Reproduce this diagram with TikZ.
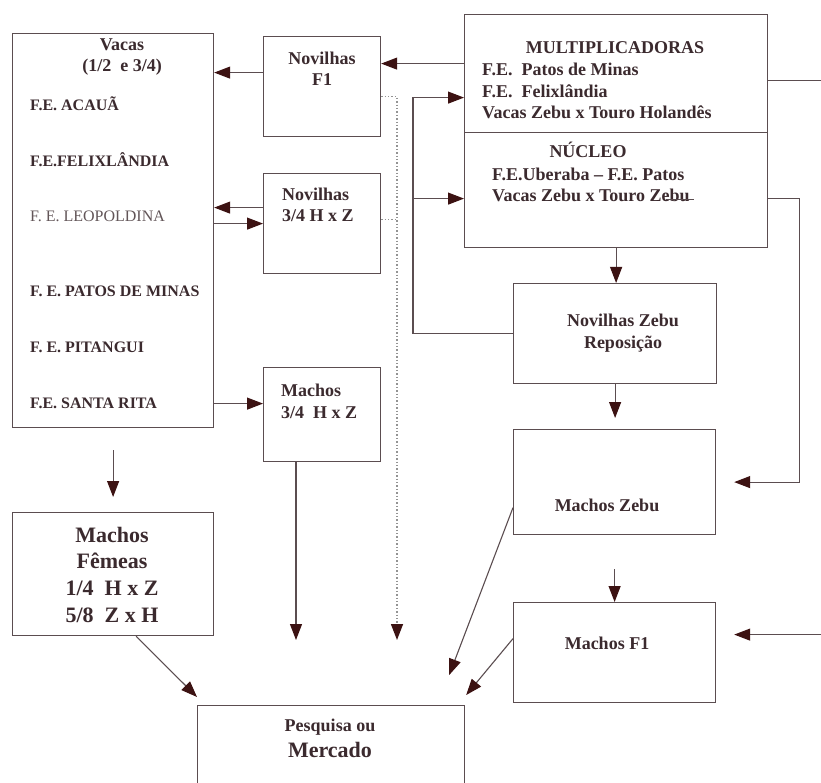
\documentclass[tikz,border=0pt]{standalone}
\usepackage{fontspec}
\setmainfont{Liberation Serif}
\usepackage{xcolor}
\usepackage{tikz}
\usetikzlibrary{shapes,arrows.meta,positioning}

\definecolor{boxcol}{HTML}{5B4D50}
\definecolor{tipcol}{HTML}{3C1212}
\definecolor{txtcol}{HTML}{3B2A2E}

\begin{document}
\begin{tikzpicture}[x=1pt, y=-1pt]
	\tikzstyle{box} = [rectangle, draw=boxcol, line width=1.2pt, anchor=north west, inner sep=0pt]
	\tikzstyle{txt} = [text=txtcol, inner sep=0pt, font=\bfseries\fontsize{18}{21.6}\selectfont]
	\tikzstyle{farm} = [txt, anchor=base west, font=\bfseries\fontsize{16}{19}\selectfont]
	\tikzstyle{big} = [txt, font=\bfseries\fontsize{22}{26.6}\selectfont]
	\tikzstyle{link} = [draw=boxcol, line width=1.1pt]
	\tikzstyle{line} = [link, -{Triangle[length=16pt, width=12pt, color=tipcol]}]
	\tikzstyle{dotline} = [draw=gray!85, dotted, line width=1.4pt]
	\fill[white] (0,0) rectangle (821,783);
	\useasboundingbox (0,0) rectangle (821,783);
	% Place boxes
	\node [box, minimum width=201pt, minimum height=394pt] (vacas) at (12,33) {};
	\node [box, minimum width=117pt, minimum height=100pt] (novf1) at (263,36) {};
	\node [box, minimum width=117pt, minimum height=100pt] (nov34) at (263,173) {};
	\node [box, minimum width=117pt, minimum height=94pt] (mach34) at (263,367) {};
	\node [box, minimum width=303pt, minimum height=118pt] (mult) at (464,14) {};
	\node [box, minimum width=303pt, minimum height=115pt] (nucleo) at (464,132) {};
	\node [box, minimum width=203pt, minimum height=100pt] (novzebu) at (513,283) {};
	\node [box, minimum width=202pt, minimum height=105pt] (machzebu) at (513,429) {};
	\node [box, minimum width=202pt, minimum height=100pt] (machf1) at (513,602) {};
	\node [box, minimum width=201pt, minimum height=123pt] (machfem) at (12,512) {};
	\node [box, minimum width=267pt, minimum height=100pt] (pesq) at (197,705) {};
	% Texts (base = last line)
	\node [txt, anchor=base, align=center] (vacastxt) at (122,72) {Vacas\\(1/2~~e 3/4)};
	\node [farm] (acaua) at (30,111) {F.E. ACAUÃ};
	\node [farm] (felix) at (30,167) {F.E.FELIXLÂNDIA};
	\node [farm, font=\fontsize{16}{19}\selectfont, text=txtcol!80] (leop) at (30,222) {F. E. LEOPOLDINA};
	\node [farm] (patos) at (30,297) {F. E. PATOS DE MINAS};
	\node [farm] (pitangui) at (30,352) {F. E. PITANGUI};
	\node [farm] (rita) at (30,408) {F.E. SANTA RITA};
	\node [txt, anchor=base, align=center] (novf1txt) at (322,86) {Novilhas\\F1};
	\node [txt, anchor=base west, align=left] (nov34txt) at (282,222) {Novilhas\\3/4 H x Z};
	\node [txt, anchor=base west, align=left] (mach34txt) at (281,418) {Machos\\3/4~~H x Z};
	\node [txt, anchor=base] (multtitle) at (615,54) {MULTIPLICADORAS};
	\node [txt, anchor=base west, align=left] (multtxt) at (482,119) {F.E.~~Patos de Minas\\F.E.~~Felixlândia\\Vacas Zebu x Touro Holandês};
	\node [txt, anchor=base] (nuctitle) at (588,158) {NÚCLEO};
	\node [txt, anchor=base west, align=left] (nuctxt) at (492,202) {F.E.Uberaba – F.E. Patos\\Vacas Zebu x Touro Zebu};
	\node [txt, anchor=base, align=center] (novzebutxt) at (623,348) {Novilhas Zebu\\Reposição};
	\node [txt, anchor=base] (machzebutxt) at (607,511) {Machos Zebu};
	\node [txt, anchor=base] (machf1txt) at (607,649) {Machos F1};
	\node [big, anchor=base, align=center] (machfemtxt) at (112,622) {Machos\\Fêmeas\\1/4~~H x Z\\5/8~~Z x H};
	\node [txt, anchor=base] (pesqtxt) at (330,731) {Pesquisa ou};
	\node [big, anchor=base] (merctxt) at (330,757) {Mercado};
	\draw [link, line width=0.8pt] (666,199) -- (694,199);
	% Free ends
	\coordinate (lp) at (413,0);
	\coordinate (dend) at (397,640);
	\coordinate (mend) at (296,640);
	\coordinate (m1) at ([yshift=10pt]mult.west);
	\coordinate (m2) at ([yshift=-24pt]mult.west);
	\coordinate (m3) at ([yshift=-7pt]mult.east);
	\coordinate (n1) at ([yshift=14pt]novf1.west);
	\coordinate (n2) at ([yshift=16pt]nov34.west);
	\coordinate (d1) at ([yshift=-10pt]novf1.east);
	\coordinate (d2) at ([yshift=4pt]nov34.east);
	\coordinate (v1) at ([yshift=11pt]mach34.west);
	\coordinate (c1) at ([yshift=-8.5pt]nucleo.west);
	\coordinate (c2) at ([yshift=-8.5pt]nucleo.east);
	\coordinate (rz) at ([xshift=18pt]machzebu.east);
	\coordinate (rf) at ([xshift=18pt, yshift=18pt]machf1.east);
	% Draw edges
	\path [line] (m1) -- (m1 -| novf1.east);
	\path [line] (n1) -- (n1 -| vacas.east);
	\path [line] (n2) -- (n2 -| vacas.east);
	\path [line] (nov34.west -| vacas.east) -- (nov34.west);
	\path [line] (v1 -| vacas.east) -- (v1);
	\path [line] ([yshift=-22pt]vacas.south) -- ([yshift=15pt]machfem.north);
	\path [line] ([xshift=23pt]machfem.south) -- ([yshift=8pt]pesq.north west);
	\path [line] (mach34.south -| mend) -- (mend);
	\path [dotline, -{Triangle[length=16pt, width=12pt, color=tipcol]}] (d1) -| (dend);
	\path [dotline] (d2) -- (d2 -| dend);
	\path [line] (novzebu.west) -| (m2 -| lp) -- (m2);
	\path [line] (c1 -| lp) -- (c1);
	\path [line] (nucleo.south) -- (nucleo.south |- novzebu.north);
	\path [line] (novzebu.south) -- ([yshift=11pt]novzebu.south |- machzebu.north);
	\path [line] ([yshift=33pt]machf1.north) -- (machf1.north);
	\path [line] (c2) -- ++(31,0) |- (rz);
	\path [line] (m3) -- ++(56,0) |- (rf);
	\path [line] ([yshift=-25.5pt]machzebu.west) -- ([xshift=-16pt, yshift=30pt]pesq.north east);
	\path [line] ([yshift=14pt]machf1.west) -- ([xshift=1pt, yshift=10pt]pesq.north east);
\end{tikzpicture}
\end{document}
